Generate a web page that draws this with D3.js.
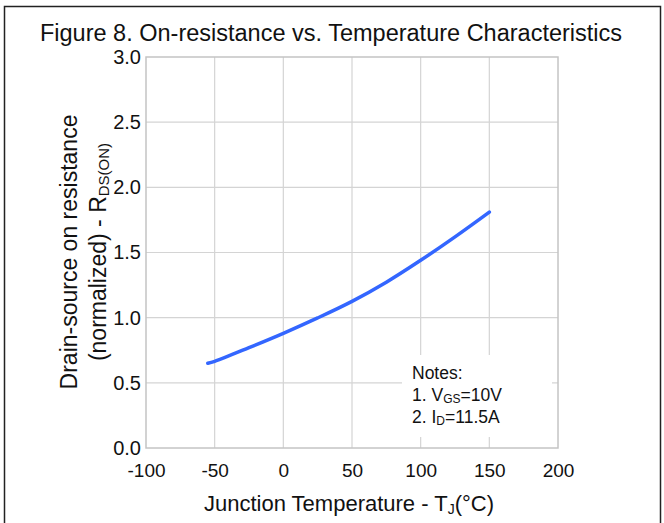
<!DOCTYPE html>
<html>
<head>
<meta charset="utf-8">
<script src="https://cdn.jsdelivr.net/npm/d3@7"></script>
<style>
  body { margin: 0; background: #fff; }
  text { font-family: "Liberation Sans", Arial, sans-serif; fill: #111; }
</style>
</head>
<body>
<div id="container"></div>
<script>
const width = 664;
const height = 523;

// data
const temps = [-55, -50, -25, 0, 25, 50, 75, 100, 125, 150];
const rdson = [0.65, 0.665, 0.77, 0.88, 0.998, 1.125, 1.272, 1.44, 1.62, 1.81];
const xTicks = [-100, -50, 0, 50, 100, 150, 200];
const yTicks = [0, 0.5, 1.0, 1.5, 2.0, 2.5, 3.0];
const notes = ["Notes:", "1. V|GS|=10V", "2. I|D|=11.5A"];

const margin = { left: 146, right: 106, top: 57, bottom: 75 };

const x = d3.scaleLinear().domain([-100, 200]).range([margin.left, width - margin.right]);
const y = d3.scaleLinear().domain([0, 3]).range([height - margin.bottom, margin.top]);

const svg = d3.select("#container")
  .append("svg")
  .attr("width", width)
  .attr("height", height);

// outer frame
svg.append("rect")
  .attr("x", 4.5).attr("y", 6.5)
  .attr("width", 656).attr("height", 530)
  .attr("fill", "none")
  .attr("stroke", "#222")
  .attr("stroke-width", 1.5);

svg.append("text")
  .attr("x", 331).attr("y", 41)
  .attr("text-anchor", "middle")
  .attr("font-size", 23.5)
  .text("Figure 8. On-resistance vs. Temperature Characteristics");

// grid
const grid = svg.append("g").attr("stroke", "#d4d4d4").attr("stroke-width", 1.2);
grid.selectAll(".vx").data(xTicks.slice(1, -1)).join("line")
  .attr("x1", d => x(d)).attr("x2", d => x(d))
  .attr("y1", y(3)).attr("y2", y(0));
grid.selectAll(".hy").data(yTicks.slice(1, -1)).join("line")
  .attr("x1", x(-100)).attr("x2", x(200))
  .attr("y1", d => y(d)).attr("y2", d => y(d));

// notes box covers grid
svg.append("rect")
  .attr("x", 402).attr("y", 355)
  .attr("width", 150).attr("height", 82)
  .attr("fill", "#fff");

svg.append("rect")
  .attr("x", x(-100)).attr("y", y(3))
  .attr("width", x(200) - x(-100)).attr("height", y(0) - y(3))
  .attr("fill", "none")
  .attr("stroke", "#c4c4c4")
  .attr("stroke-width", 1.5);

// axes
const xAxis = svg.append("g")
  .attr("transform", `translate(0,${y(0)})`)
  .call(d3.axisBottom(x).tickValues(xTicks).tickSize(0).tickPadding(16).tickFormat(d => String(d)));
xAxis.select(".domain").remove();
xAxis.selectAll("text").attr("font-size", 19).attr("fill", "#111");

const yAxis = svg.append("g")
  .attr("transform", `translate(${x(-100)},0)`)
  .call(d3.axisLeft(y).tickValues(yTicks).tickSize(0).tickPadding(5).tickFormat(d3.format(".1f")));
yAxis.select(".domain").remove();
yAxis.selectAll("text").attr("font-size", 20).attr("fill", "#111");

// curve
const line = d3.line()
  .x((d, i) => x(temps[i]))
  .y(d => y(d))
  .curve(d3.curveCatmullRom);

svg.append("path")
  .datum(rdson)
  .attr("fill", "none")
  .attr("stroke", "#3366ff")
  .attr("stroke-width", 3.5)
  .attr("stroke-linecap", "round")
  .attr("d", line);

// notes
const noteG = svg.append("g");
notes.forEach((n, i) => {
  const parts = n.split("|");
  const t = noteG.append("text").attr("x", 412).attr("y", 379 + i * 22).attr("font-size", 17.5);
  t.append("tspan").text(parts[0]);
  if (parts.length > 1) {
    t.append("tspan").attr("font-size", 12).attr("dy", 2).text(parts[1]);
    t.append("tspan").attr("dy", -2).text(parts[2]);
  }
});

// x axis title
const xt = svg.append("text")
  .attr("x", 349).attr("y", 511)
  .attr("text-anchor", "middle")
  .attr("font-size", 22);
xt.append("tspan").text("Junction Temperature - T");
xt.append("tspan").attr("font-size", 14).attr("dy", 3).text("J");
xt.append("tspan").attr("dy", -3).text("(°C)");

// y axis title
const yt = svg.append("g").attr("transform", "translate(77,252) rotate(-90)");
yt.append("text")
  .attr("text-anchor", "middle")
  .attr("font-size", 23)
  .text("Drain-source on resistance");
const yt2 = yt.append("text")
  .attr("y", 29)
  .attr("text-anchor", "middle")
  .attr("font-size", 23);
yt2.append("tspan").text("(normalized) - R");
yt2.append("tspan").attr("font-size", 15).attr("dy", 3).text("DS(ON)");
</script>
</body>
</html>
